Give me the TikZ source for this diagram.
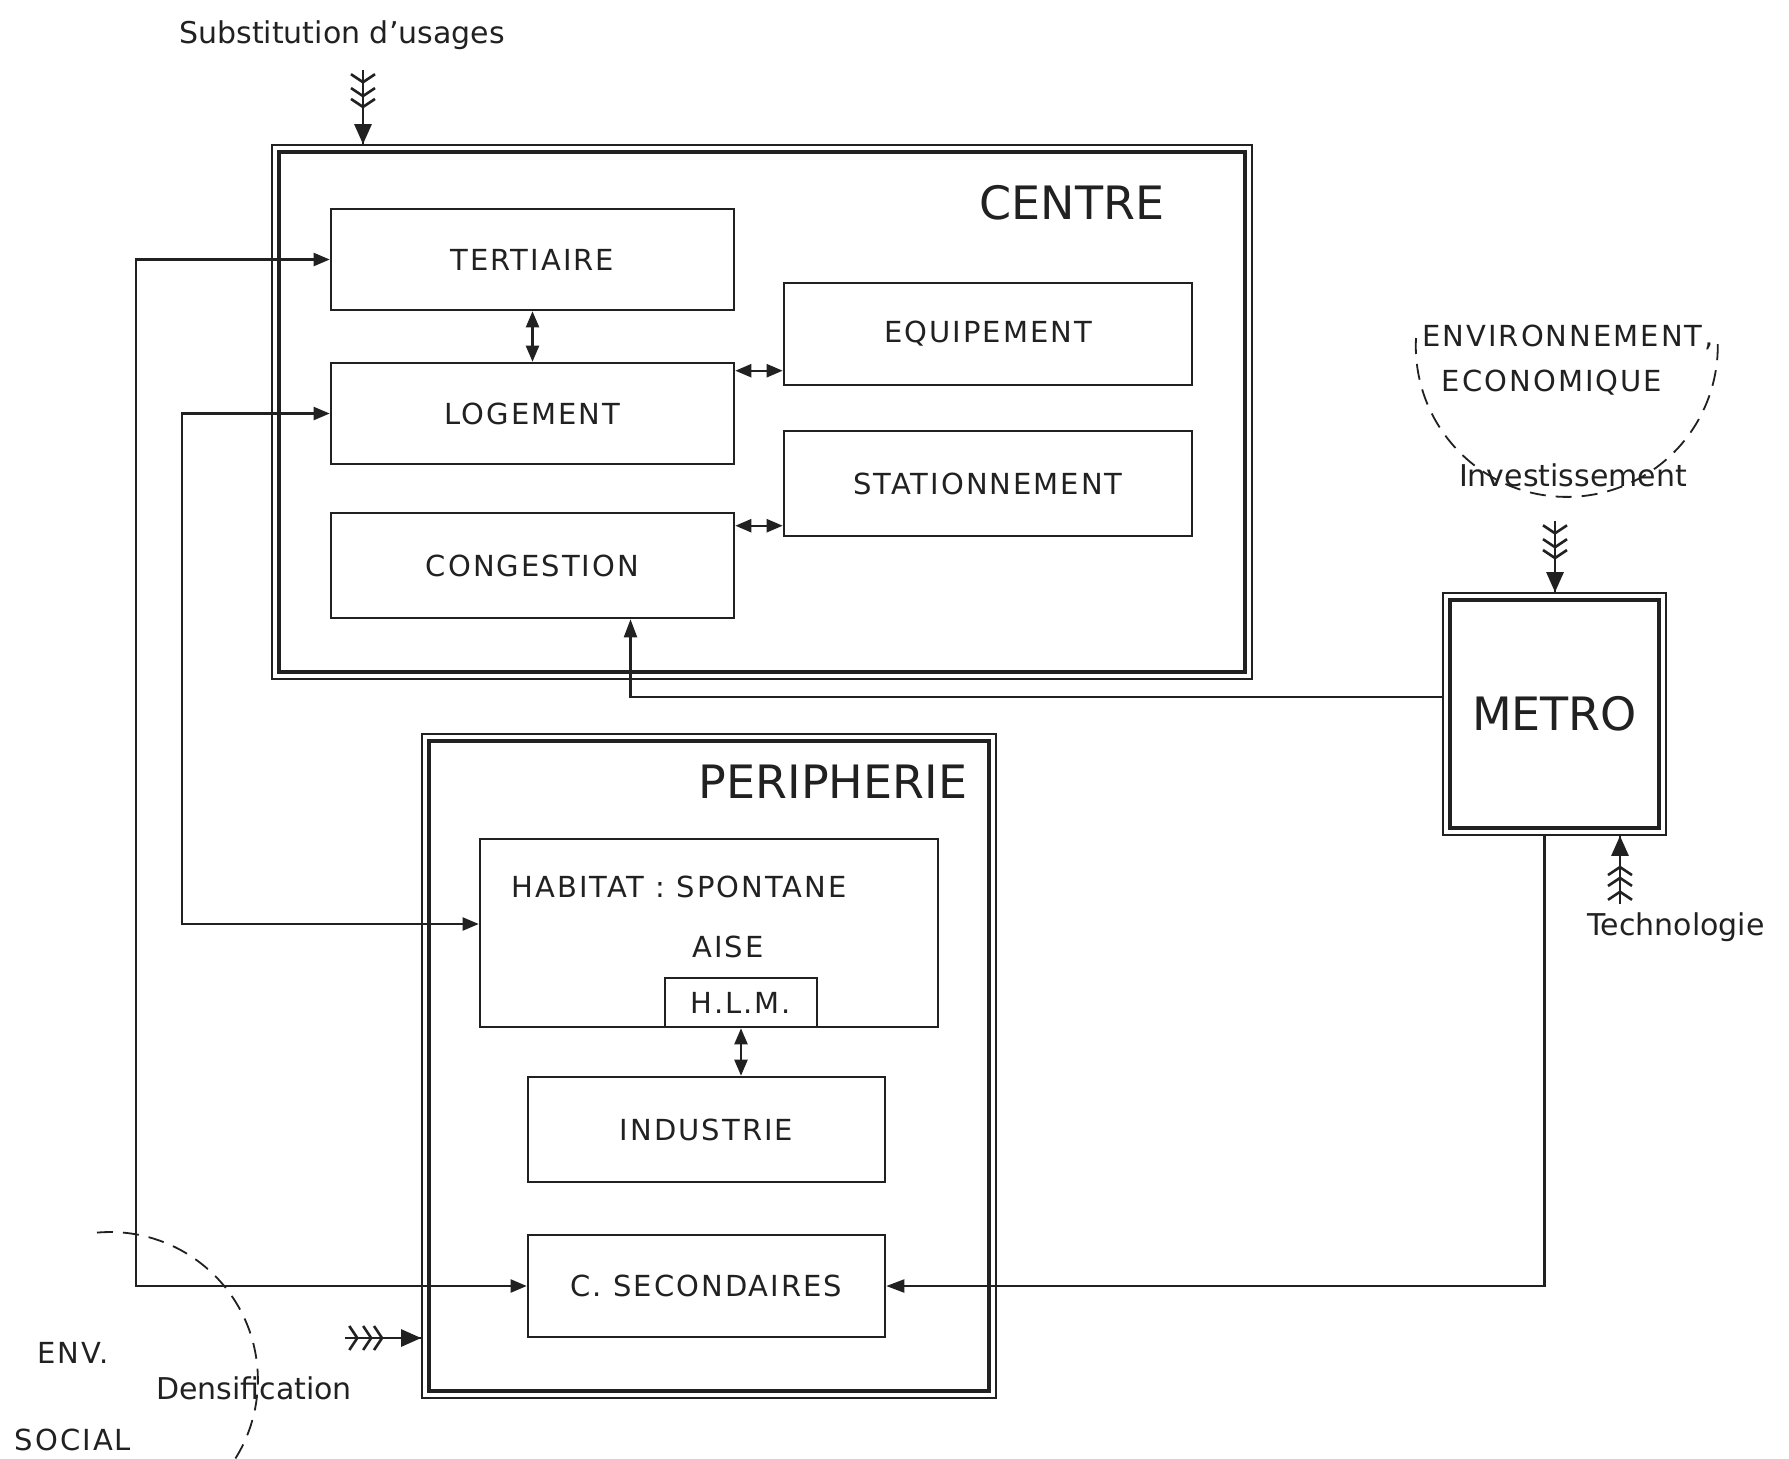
\documentclass[tikz,border=0pt]{standalone}
\usepackage{fontspec}
\setmainfont{DejaVu Sans}
\newfontfamily\stencil[LetterSpace=7]{DejaVu Sans}
\usetikzlibrary{arrows.meta,positioning}
\definecolor{ink}{gray}{0.13}

\begin{document}
\begin{tikzpicture}[
  x=0.5pt, y=-0.5pt,
  box/.style={draw=ink,line width=1.3pt,inner sep=0pt,text=ink,font=\stencil\fontsize{14.5}{17}\selectfont},
  frame/.style={draw=ink,line width=0.8pt,inner sep=0pt},
  big/.style={text=ink,inner sep=0pt,font=\fontsize{23}{27}\selectfont},
  caps/.style={text=ink,inner sep=0pt,font=\stencil\fontsize{14.5}{17}\selectfont},
  hand/.style={text=ink,inner sep=0pt,font=\fontsize{15}{18}\selectfont},
  arr/.style={draw=ink,line width=1.1pt,-{Triangle[length=9pt,width=6.5pt]}},
  dbl/.style={draw=ink,line width=1.1pt,{Triangle[length=8pt,width=6.5pt]}-{Triangle[length=8pt,width=6.5pt]}},
  fletch/.style={draw=ink,line width=1.3pt,
    {Straight Barb[reversed,length=4pt,width=12pt,sep=1.5pt]Straight Barb[reversed,length=4pt,width=12pt,sep=1.5pt]Straight Barb[reversed,length=4pt,width=12pt]}-{Triangle[length=10pt,width=8.5pt]},
    postaction={draw=ink,line width=1.3pt,arrows=-}},
  zone/.style={draw=ink,line width=0.9pt,dash pattern=on 8pt off 5pt}
]
\path[fill=white,use as bounding box] (0,0) rectangle (1789,1458);

% the three zones
\node[frame,minimum width=490pt,minimum height=267pt] (centre) at (762,412) {};
\node[frame,minimum width=287pt,minimum height=332pt] (peri) at (709,1066) {};
\node[frame,big,minimum width=111.5pt,minimum height=121pt] (metro) at (1554.5,714) {METRO};
\foreach \f in {centre,peri,metro}
  \draw[ink,line width=1.8pt] ([shift={(4pt,-4pt)}]\f.north west) rectangle ([shift={(-4pt,4pt)}]\f.south east);
\node[big] (centreLbl) at (1072,203) {CENTRE};
\node[big] (periLbl) at (833,782) {PERIPHERIE};

% centre
\node[box,minimum width=201.5pt,minimum height=50.5pt] (tert) at (532.5,259.5) {TERTIAIRE};
\node[box,minimum width=201.5pt,minimum height=50.5pt] (loge) at (532.5,413.5) {LOGEMENT};
\node[box,minimum width=201.5pt,minimum height=52.5pt] (cong) at (532.5,565.5) {CONGESTION};
\node[box,minimum width=204pt,minimum height=51pt] (equip) at (988,334) {EQUIPEMENT};
\node[box,minimum width=204pt,minimum height=52.5pt] (station) at (988,483.5) {STATIONNEMENT};

% peripherie
\node[box,minimum width=229pt,minimum height=94pt] (hab) at (709,933) {};
\node[box,minimum width=76pt,minimum height=24.5pt] (hlm) at (741,1002.5) {H.L.M.};
\node[caps,anchor=west] (spont) at (511,887) {HABITAT : SPONTANE};
\node[caps,anchor=west] (aise) at (692,947) {AISE};
\node[box,minimum width=178.5pt,minimum height=52.5pt] (indus) at (706.5,1129.5) {INDUSTRIE};
\node[box,minimum width=178.5pt,minimum height=51pt] (csec) at (706.5,1286) {C. SECONDAIRES};

% environment
\node[hand] (subs) at (342,35) {Substitution d'usages};
\node[caps] (envA) at (1568,337) {ENVIRONNEMENT,};
\node[caps] (envB) at (1552,383) {ECONOMIQUE};
\draw[zone] (1416,338) arc[start angle=177,end angle=363,radius=75.5pt];
\node[hand] (invest) at (1573,475) {Investissement};
\node[hand] (techno) at (1676,927) {Technologie};
\node[caps] (envS) at (73,1353) {ENV.};
\node[caps] (social) at (73,1440) {SOCIAL};
\draw[zone] (97,1232.6) arc[start angle=95,end angle=-32,radius=74pt];
\node[hand] (dens) at (254,1388) {Densification};

% links
\draw[dbl] (tert.south) -- (loge.north);
\draw[dbl] ([yshift=-4.5pt]loge.north east) -- ([yshift=-4.5pt]loge.north east -| equip.west);
\draw[dbl] ([yshift=-7pt]cong.north east) -- ([yshift=-7pt]cong.north east -| station.west);
\draw[dbl] (hlm.south) -- (hlm.south |- indus.north);
\draw[dbl] (tert.west) -- ++(-194,0) |- (csec.west);
\draw[dbl] (loge.west) -- ++(-148,0) |- ([yshift=4.5pt]hab.west);
\draw[arr] ([xshift=-5pt]metro.south) |- (csec.east);
\draw[arr] ([yshift=8.5pt]metro.west) -| ([xshift=49pt]cong.south);

% pressures from outside
\draw[fletch] ([xshift=10.5pt,yshift=-10pt]subs.south) -- ([xshift=10.5pt]subs.south |- centre.north);
\draw[fletch] ([xshift=-9pt,yshift=-17pt]invest.south) -- ([xshift=-9pt]invest.south |- metro.north);
\draw[fletch] ([xshift=-28pt,yshift=4pt]techno.north) -- ([xshift=-28pt]techno.north |- metro.south);
\coordinate (densTail) at (345,1338);
\draw[fletch] (densTail) -- (densTail -| peri.west);
\end{tikzpicture}
\end{document}
